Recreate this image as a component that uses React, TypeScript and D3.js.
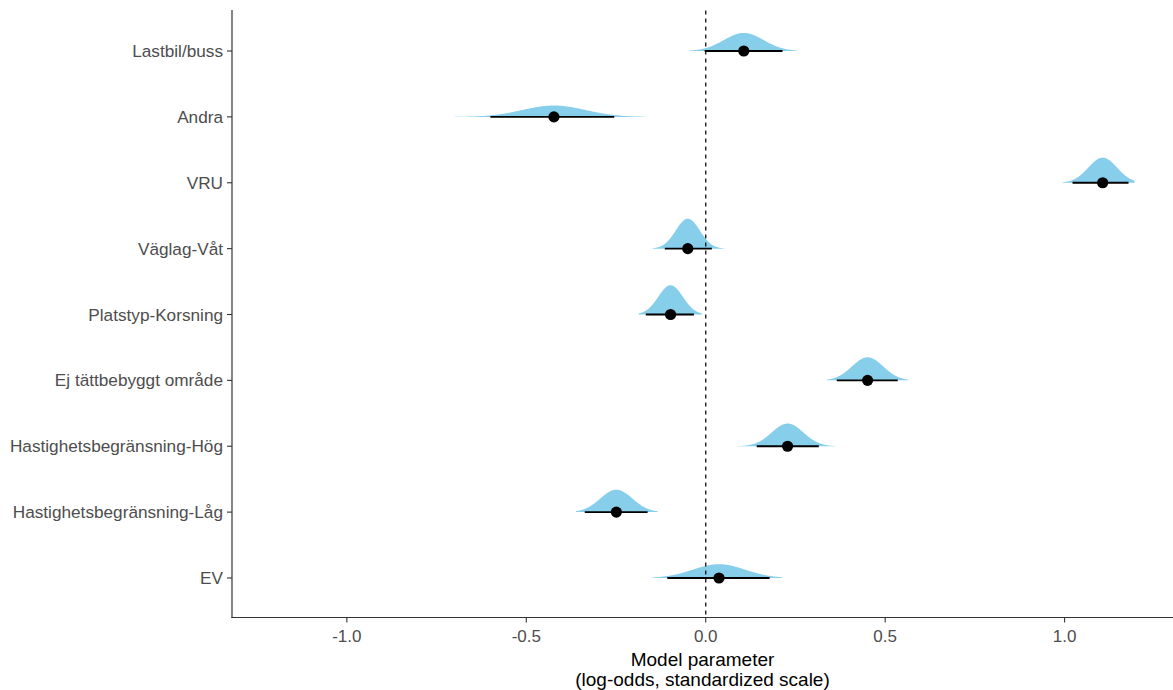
import React from "react";
import * as d3 from "d3";

// Posterior summaries per model term (log-odds, standardized scale)
const categories = [
  "Lastbil/buss",
  "Andra",
  "VRU",
  "Väglag-Våt",
  "Platstyp-Korsning",
  "Ej tättbebyggt område",
  "Hastighetsbegränsning-Hög",
  "Hastighetsbegränsning-Låg",
  "EV",
];
const medians = [0.106, -0.423, 1.106, -0.05, -0.098, 0.451, 0.228, -0.249, 0.037];
const lower95 = [-0.003, -0.6, 1.022, -0.114, -0.167, 0.365, 0.142, -0.337, -0.107];
const upper95 = [0.214, -0.255, 1.178, 0.017, -0.033, 0.535, 0.315, -0.162, 0.178];
// range covered by the posterior draws
const drawMin = [-0.047, -0.699, 0.994, -0.148, -0.187, 0.337, 0.089, -0.362, -0.148];
const drawMax = [0.253, -0.167, 1.195, 0.05, -0.011, 0.565, 0.362, -0.134, 0.214];

const xTicks = [-1, -0.5, 0, 0.5, 1];
const xTickLabels = ["-1.0", "-0.5", "0.0", "0.5", "1.0"];

const W = 1173;
const H = 690;
const panel = { left: 232, right: 1173, top: 11.5, bottom: 617.5 };
const FONT = "'Liberation Sans', Arial, sans-serif";

export default function App() {
  const x = d3.scaleLinear().domain([-1.32, 1.302]).range([panel.left, panel.right]);
  const y = d3
    .scalePoint<string>()
    .domain(categories)
    .range([panel.top, panel.bottom])
    .padding(0.6);
  const step = y.step();

  const sds = categories.map((_, i) => (upper95[i] - lower95[i]) / 3.92);
  const pdf = (v: number, m: number, s: number) =>
    Math.exp(-0.5 * ((v - m) / s) ** 2) / (s * Math.sqrt(2 * Math.PI));
  const maxPdf = d3.max(sds, (s) => 1 / (s * Math.sqrt(2 * Math.PI))) as number;
  const thick = d3.scaleLinear().domain([0, maxPdf]).range([0, step * 0.455]);

  const slabs = categories.map((c, i) => {
    const grid = d3.range(0, 201).map((k) => drawMin[i] + ((drawMax[i] - drawMin[i]) * k) / 200);
    const base = y(c) as number;
    const area = d3
      .area<number>()
      .x((v) => x(v))
      .y0(base)
      .y1((v) => base - thick(pdf(v, medians[i], sds[i])));
    return area(grid) as string;
  });

  return (
    <svg
      width={W}
      height={H}
      style={{ position: "absolute", left: 0, top: 0, background: "#fff" }}
      fontFamily={FONT}
    >
      {/* density slabs */}
      {slabs.map((d, i) => (
        <path key={"s" + i} d={d} fill="#87CEEB" stroke="none" />
      ))}

      {/* reference line at zero */}
      <line
        x1={x(0)}
        x2={x(0)}
        y1={panel.top - 1}
        y2={panel.bottom}
        stroke="#111"
        strokeWidth={1.3}
        strokeDasharray="4,4"
      />

      {/* intervals and medians */}
      {categories.map((c, i) => (
        <g key={"p" + i}>
          <line
            x1={x(lower95[i])}
            x2={x(upper95[i])}
            y1={y(c)}
            y2={y(c)}
            stroke="#000"
            strokeWidth={1.8}
          />
          <circle cx={x(medians[i])} cy={y(c)} r={5.6} fill="#000" />
        </g>
      ))}

      {/* y axis */}
      <line x1={panel.left} x2={panel.left} y1={panel.top - 1.5} y2={panel.bottom + 0.6} stroke="#333" strokeWidth={1.2} />
      {categories.map((c) => (
        <g key={"y" + c}>
          <line x1={panel.left - 5} x2={panel.left} y1={y(c)} y2={y(c)} stroke="#333" strokeWidth={1.1} />
          <text
            x={panel.left - 9}
            y={y(c)}
            dy="0.35em"
            textAnchor="end"
            fontSize={17.2}
            fill="#4D4D4D"
          >
            {c}
          </text>
        </g>
      ))}

      {/* x axis */}
      <line x1={panel.left - 0.6} x2={panel.right} y1={panel.bottom} y2={panel.bottom} stroke="#333" strokeWidth={1.2} />
      {xTicks.map((t, i) => (
        <g key={"x" + t}>
          <line x1={x(t)} x2={x(t)} y1={panel.bottom} y2={panel.bottom + 5} stroke="#333" strokeWidth={1.1} />
          <text x={x(t)} y={642} textAnchor="middle" fontSize={17} fill="#4D4D4D">
            {xTickLabels[i]}
          </text>
        </g>
      ))}

      {/* axis title */}
      <text x={(panel.left + panel.right) / 2} y={666} textAnchor="middle" fontSize={19} fill="#000">
        Model parameter
      </text>
      <text x={(panel.left + panel.right) / 2} y={686} textAnchor="middle" fontSize={19} fill="#000">
        (log-odds, standardized scale)
      </text>
    </svg>
  );
}
